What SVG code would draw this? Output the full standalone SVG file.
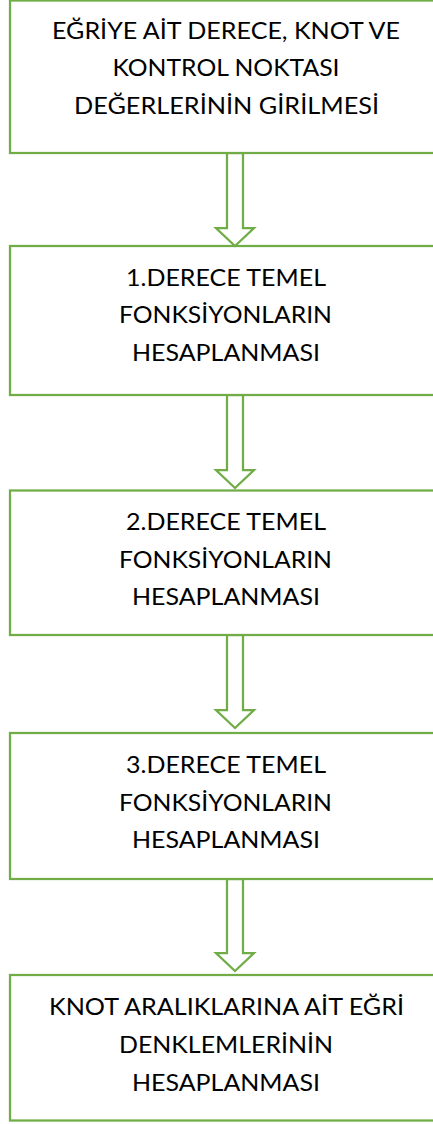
<svg xmlns="http://www.w3.org/2000/svg" width="433" height="1124" viewBox="0 0 433 1124">
  <style>
    .box { fill: #ffffff; stroke: #70AD47; stroke-width: 2.25; }
    .arrow { fill: #ffffff; stroke: #70AD47; stroke-width: 2.25; stroke-linejoin: miter; }
    .label { font-family: "Lato", "Open Sans", "Liberation Sans", sans-serif; font-size: 23.5px; fill: #000000; text-anchor: middle; }
  </style>
  <rect x="0" y="0" width="433" height="1124" fill="#ffffff"/>

  <!-- process steps -->
  <g id="step-input">
    <rect class="box" x="10" y="0.5" width="432" height="152.5"/>
    <text class="label" x="226" y="38.5" textLength="348" lengthAdjust="spacingAndGlyphs">EĞRİYE AİT DERECE, KNOT VE</text>
    <text class="label" x="226" y="76" textLength="227" lengthAdjust="spacingAndGlyphs">KONTROL NOKTASI</text>
    <text class="label" x="226.5" y="113.5" textLength="305" lengthAdjust="spacingAndGlyphs">DEĞERLERİNİN GİRİLMESİ</text>
  </g>

  <g id="step-degree1">
    <rect class="box" x="10" y="246" width="432" height="149"/>
    <text class="label" x="226" y="285.5" textLength="200" lengthAdjust="spacingAndGlyphs">1.DERECE TEMEL</text>
    <text class="label" x="225.5" y="323" textLength="213" lengthAdjust="spacingAndGlyphs">FONKSİYONLARIN</text>
    <text class="label" x="226" y="360.5" textLength="188" lengthAdjust="spacingAndGlyphs">HESAPLANMASI</text>
  </g>

  <g id="step-degree2">
    <rect class="box" x="10" y="490.5" width="432" height="144.5"/>
    <text class="label" x="226" y="530" textLength="200" lengthAdjust="spacingAndGlyphs">2.DERECE TEMEL</text>
    <text class="label" x="225.5" y="567.5" textLength="213" lengthAdjust="spacingAndGlyphs">FONKSİYONLARIN</text>
    <text class="label" x="226" y="605" textLength="188" lengthAdjust="spacingAndGlyphs">HESAPLANMASI</text>
  </g>

  <g id="step-degree3">
    <rect class="box" x="10" y="733" width="432" height="146"/>
    <text class="label" x="226" y="773" textLength="200" lengthAdjust="spacingAndGlyphs">3.DERECE TEMEL</text>
    <text class="label" x="225.5" y="810.5" textLength="213" lengthAdjust="spacingAndGlyphs">FONKSİYONLARIN</text>
    <text class="label" x="226" y="848" textLength="188" lengthAdjust="spacingAndGlyphs">HESAPLANMASI</text>
  </g>

  <g id="step-curves">
    <rect class="box" x="10" y="975" width="432" height="145.5"/>
    <text class="label" x="226.5" y="1015" textLength="355" lengthAdjust="spacingAndGlyphs">KNOT ARALIKLARINA AİT EĞRİ</text>
    <text class="label" x="226" y="1053" textLength="214" lengthAdjust="spacingAndGlyphs">DENKLEMLERİNİN</text>
    <text class="label" x="226" y="1090.5" textLength="188" lengthAdjust="spacingAndGlyphs">HESAPLANMASI</text>
  </g>

  <!-- block arrows between steps -->
  <g id="connectors">
    <polygon class="arrow" points="227,153 243,153 243,228 254,228 235,246 216,228 227,228"/>
    <polygon class="arrow" points="227,395 243,395 243,470 254,470 235,488 216,470 227,470"/>
    <polygon class="arrow" points="227,635 243,635 243,710 254,710 235,728 216,710 227,710"/>
    <polygon class="arrow" points="227,879 243,879 243,953 254,953 235,971 216,953 227,953"/>
  </g>
</svg>
